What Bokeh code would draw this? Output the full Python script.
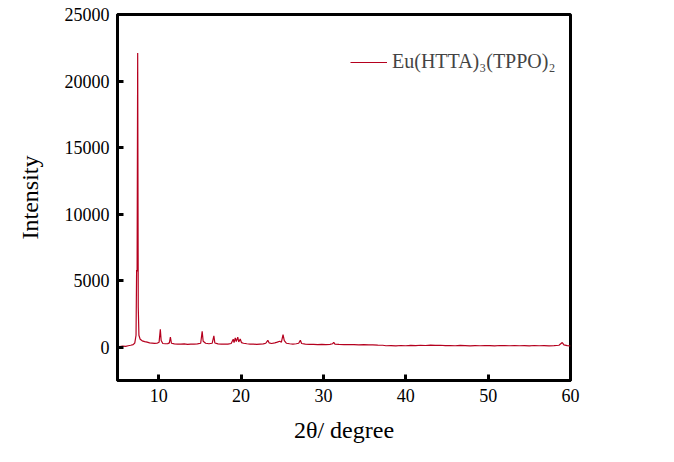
from bokeh.plotting import figure
from bokeh.models import Range1d, FixedTicker, Legend, LegendItem
from bokeh.embed import file_html
from bokeh.resources import INLINE

# ---- data ----
two_theta = [5.0, 5.3, 5.6, 6.0, 6.3, 6.6, 6.9, 7.1, 7.25, 7.32, 7.38, 7.45, 7.52, 7.6, 7.75,
             8.0, 8.3, 8.6, 8.9, 9.2, 9.5, 9.8, 10.05, 10.2, 10.3, 10.5, 10.8, 11.1, 11.3,
             11.42, 11.55, 11.9, 12.3, 12.7, 13.1, 13.5, 13.9, 14.3, 14.7, 15.1, 15.28, 15.4,
             15.7, 16.1, 16.5, 16.7, 16.82, 17.2, 17.6, 18.0, 18.4, 18.8, 19.05, 19.15, 19.3,
             19.42, 19.6, 19.72, 19.9, 20.05, 20.3, 20.7, 21.1, 21.5, 21.9, 22.3, 22.7, 23.0,
             23.25, 23.4, 23.7, 24.1, 24.4, 24.7, 24.9, 25.1, 25.25, 25.5, 25.9, 26.3, 26.7,
             27.0, 27.2, 27.35, 27.8, 28.3, 28.8, 29.3, 29.8, 30.3, 30.8, 31.1, 31.25, 31.4,
             31.9, 32.5, 33.1, 33.7, 34.3, 34.9, 35.5, 36.0, 36.6, 37.2, 37.6, 38.2, 38.8,
             39.4, 40.0, 40.6, 41.2, 41.8, 42.4, 43.0, 43.6, 44.2, 44.8, 45.4, 46.0, 46.6,
             47.2, 47.8, 48.4, 49.0, 49.6, 50.2, 50.8, 51.4, 52.0, 52.6, 53.2, 53.8, 54.4,
             55.0, 55.6, 56.2, 56.8, 57.4, 58.0, 58.6, 59.0, 59.2, 59.6, 60.0]
intensity = [60, 40, 90, 70, 110, 150, 200, 320, 900, 5800, 5700, 22100, 3000, 900, 600,
             480, 420, 380, 330, 310, 290, 300, 380, 1350, 500, 280, 260, 270, 330,
             770, 300, 250, 240, 230, 250, 220, 240, 230, 250, 300, 1200, 450,
             300, 260, 300, 850, 320, 250, 230, 240, 230, 280, 600, 350, 700,
             420, 760, 400, 620, 350, 300, 260, 240, 230, 210, 230, 250, 300,
             520, 330, 280, 330, 380, 450, 380, 950, 500, 300, 260, 240, 260,
             300, 520, 280, 230, 210, 220, 200, 210, 190, 220, 260, 370, 230,
             210, 200, 190, 200, 180, 190, 170, 180, 160, 150, 110, 120, 100,
             130, 110, 140, 120, 150, 130, 160, 140, 150, 120, 130, 110, 140,
             120, 100, 120, 110, 130, 120, 100, 130, 120, 110, 130, 110, 120,
             100, 130, 110, 120, 100, 120, 150, 350, 180, 120, 100]

x_ticks = [10, 20, 30, 40, 50, 60]
y_ticks = [0, 5000, 10000, 15000, 20000, 25000]
series_name = "Eu(HTTA)\u2083(TPPO)\u2082"
x_title = "2\u03b8/ degree"
y_title = "Intensity"

FONT = "Liberation Serif"
RED = "#b5001e"

p = figure(width=674, height=462, output_backend="svg", toolbar_location=None,
           x_range=Range1d(5, 60), y_range=Range1d(-2500, 25000),
           min_border_left=117, min_border_top=14, min_border_right=104, min_border_bottom=82)

r = p.line(two_theta, intensity, line_color=RED, line_width=1.2)

p.xgrid.visible = False
p.ygrid.visible = False
p.background_fill_color = "white"
p.border_fill_color = "white"
p.outline_line_color = "black"
p.outline_line_width = 3
p.outline_line_alpha = 1

p.axis.axis_line_width = 3
p.axis.axis_line_color = "black"
p.axis.major_tick_in = 6
p.axis.major_tick_out = 0
p.axis.major_tick_line_width = 3
p.axis.major_tick_line_color = "black"
p.axis.minor_tick_line_color = None
p.axis.major_label_text_font = FONT
p.axis.major_label_text_font_size = "18px"
p.axis.major_label_text_color = "black"
p.axis.axis_label_text_font = FONT
p.axis.axis_label_text_font_size = "24px"
p.axis.axis_label_text_font_style = "normal"
p.axis.axis_label_text_color = "black"

p.xaxis.ticker = FixedTicker(ticks=x_ticks)
p.yaxis.ticker = FixedTicker(ticks=y_ticks)
p.xaxis.axis_label = x_title
p.yaxis.axis_label = y_title
p.xaxis.major_label_standoff = 8
p.yaxis.major_label_standoff = 8
p.xaxis.axis_label_standoff = 12
p.yaxis.axis_label_standoff = 19

legend = Legend(items=[LegendItem(label=series_name, renderers=[r])],
                location=(233, 307), border_line_color=None, background_fill_alpha=0,
                label_text_font=FONT, label_text_font_size="20px",
                glyph_width=37, glyph_height=20, label_standoff=5, padding=0, margin=0,
                label_height=20)
p.add_layout(legend)

open("out.html", "w").write(file_html(p, INLINE))
